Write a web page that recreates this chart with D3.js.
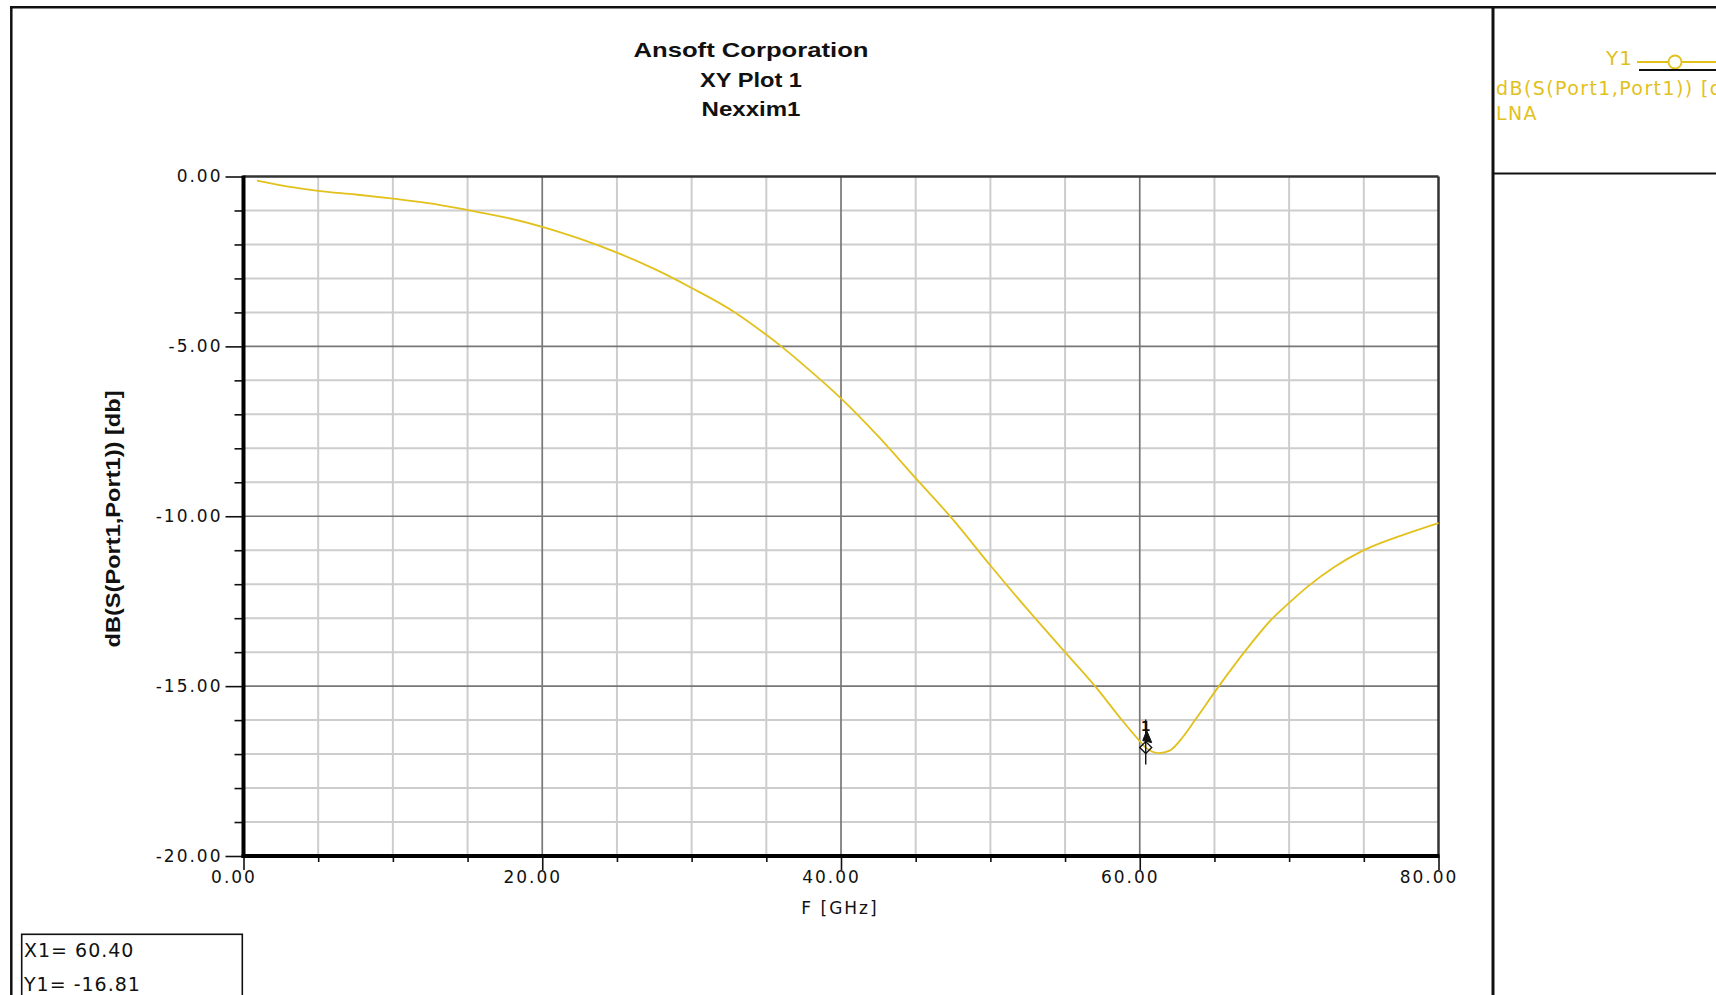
<!DOCTYPE html>
<html><head><meta charset="utf-8">
<script src="https://cdn.jsdelivr.net/npm/d3@7"></script>
<style>html,body{margin:0;padding:0;background:#fff;overflow:hidden}svg{display:block}</style>
</head><body><svg id="chart" width="1716" height="995"></svg>
<script>
// ---------- data ----------
const titleLines = ["Ansoft Corporation", "XY Plot 1", "Nexxim1"];
const xLabel = "F [GHz]";
const yLabel = "dB(S(Port1,Port1)) [db]";
const legendName = "Y1";
const legendExpr = "dB(S(Port1,Port1)) [dB]";
const legendSource = "LNA";
const xMajorTicks = [0, 20, 40, 60, 80];
const yMajorTicks = [0, -5, -10, -15, -20];
const freqGHz = [0.9, 3.35, 5, 7.5, 10, 12.5, 15, 17.5, 20, 22.5, 25, 27.5, 30, 32.9, 35, 36.0, 37.5, 40, 42.5, 45, 47.4, 50, 52.5, 55, 57.1, 58.9, 60, 60.4, 61.3, 62, 62.9, 63.7, 65.3, 67.0, 68.9, 70, 71.3, 73, 74.9, 77.3, 80];
const s11dB = [-0.12, -0.32, -0.42, -0.53, -0.65, -0.79, -0.99, -1.2, -1.48, -1.83, -2.24, -2.72, -3.28, -4.0, -4.66, -5.0, -5.55, -6.53, -7.65, -8.88, -10.05, -11.45, -12.75, -14.0, -15.05, -16.05, -16.62, -16.81, -16.97, -16.9, -16.49, -16.0, -15.0, -14.0, -13.0, -12.55, -12.05, -11.5, -11.02, -10.6, -10.2];
const markerX = [60.40];
const markerY = [-16.81];

// ---------- layout ----------
const svg = d3.select("#chart");
const curveColor = "#e2c11c";
const x = d3.scaleLinear().domain([0, 80]).range([243.5, 1438.5]);
const y = d3.scaleLinear().domain([-20, 0]).range([856, 176.5]);
const locale = d3.formatLocale({decimal: ".", thousands: ",", grouping: [3], currency: ["$", ""], minus: "-"});
const fmt = locale.format(".2f");

svg.append("rect").attr("width", 1716).attr("height", 995).attr("fill", "#ffffff");

// outer frame and legend panel
const frame = svg.append("g").attr("stroke", "#111").attr("fill", "none");
frame.append("line").attr("x1", 10).attr("x2", 1716).attr("y1", 7.3).attr("y2", 7.3).attr("stroke-width", 2.5);
frame.append("line").attr("x1", 11.3).attr("x2", 11.3).attr("y1", 6).attr("y2", 995).attr("stroke-width", 2.5);
frame.append("line").attr("x1", 1493).attr("x2", 1493).attr("y1", 6).attr("y2", 995).attr("stroke-width", 3);
frame.append("line").attr("x1", 1493).attr("x2", 1716).attr("y1", 173.5).attr("y2", 173.5).attr("stroke-width", 2.2);

// title
const titleY = [56.5, 87, 116];
const titleW = [235, 102, 99];
svg.append("g").selectAll("text").data(titleLines).join("text")
  .attr("x", 751).attr("y", (d, i) => titleY[i])
  .attr("text-anchor", "middle")
  .attr("font-family", "'Liberation Sans', Arial, sans-serif")
  .attr("font-weight", "bold").attr("font-size", 20.5).attr("fill", "#111")
  .attr("textLength", (d, i) => titleW[i]).attr("lengthAdjust", "spacingAndGlyphs")
  .text(d => d);

// grid
const grid = svg.append("g");
const minorXs = x.ticks(16).filter(v => !xMajorTicks.includes(v));
const minorYs = y.ticks(20).filter(v => !yMajorTicks.includes(v));
grid.selectAll("line.mx").data(minorXs).join("line").attr("class", "mx")
  .attr("x1", d => x(d)).attr("x2", d => x(d)).attr("y1", y(0)).attr("y2", y(-20))
  .attr("stroke", "#cdcdcd").attr("stroke-width", 2);
grid.selectAll("line.my").data(minorYs).join("line").attr("class", "my")
  .attr("x1", x(0)).attr("x2", x(80)).attr("y1", d => y(d)).attr("y2", d => y(d))
  .attr("stroke", "#cdcdcd").attr("stroke-width", 2);
grid.selectAll("line.MX").data(xMajorTicks.filter(v => v > 0 && v < 80)).join("line").attr("class", "MX")
  .attr("x1", d => x(d)).attr("x2", d => x(d)).attr("y1", y(0)).attr("y2", y(-20))
  .attr("stroke", "#777").attr("stroke-width", 1.7);
grid.selectAll("line.MY").data(yMajorTicks.filter(v => v < 0 && v > -20)).join("line").attr("class", "MY")
  .attr("x1", x(0)).attr("x2", x(80)).attr("y1", d => y(d)).attr("y2", d => y(d))
  .attr("stroke", "#777").attr("stroke-width", 1.7);
// top and right borders
grid.append("line").attr("x1", x(0)).attr("x2", x(80)).attr("y1", y(0)).attr("y2", y(0))
  .attr("stroke", "#333").attr("stroke-width", 2.5);
grid.append("line").attr("x1", x(80)).attr("x2", x(80)).attr("y1", y(0)).attr("y2", y(-20))
  .attr("stroke", "#333").attr("stroke-width", 2.5);

// curve
const pts = freqGHz.map((f, i) => [f, s11dB[i]]);
svg.append("path").datum(pts)
  .attr("fill", "none").attr("stroke", curveColor).attr("stroke-width", 1.8)
  .attr("d", d3.line().x(d => x(d[0])).y(d => y(d[1])).curve(d3.curveMonotoneX));

// axes
const tickFont = "'DejaVu Sans', sans-serif";
const yAxisMajor = d3.axisLeft(y).tickValues(yMajorTicks).tickSize(18).tickPadding(3).tickFormat(fmt);
const yAxisMinor = d3.axisLeft(y).tickValues(minorYs).tickSize(9).tickFormat("");
const xAxisMajor = d3.axisBottom(x).tickValues(xMajorTicks).tickSize(14).tickPadding(1).tickFormat(fmt);
const xAxisMinor = d3.axisBottom(x).tickValues(minorXs).tickSize(6).tickFormat("");

function styleAxis(g) {
  g.select(".domain").remove();
  g.selectAll(".tick line").attr("stroke", "#111").attr("stroke-width", 1.6);
  g.selectAll(".tick text").attr("fill", "#111").attr("font-family", tickFont)
    .attr("font-size", 17).attr("letter-spacing", 2);
}
svg.append("g").attr("transform", `translate(${x(0)},0)`).call(yAxisMinor).call(styleAxis);
svg.append("g").attr("transform", `translate(${x(0)},0)`).call(yAxisMajor).call(styleAxis);
svg.append("g").attr("transform", `translate(0,${y(-20)})`).call(xAxisMinor).call(styleAxis);
const gx = svg.append("g").attr("transform", `translate(0,${y(-20)})`).call(xAxisMajor).call(styleAxis);
gx.selectAll(".tick text").attr("dx", -10);

// thick axis lines
svg.append("line").attr("x1", x(0)).attr("x2", x(0)).attr("y1", y(0) - 1).attr("y2", y(-20) + 2)
  .attr("stroke", "#000").attr("stroke-width", 4);
svg.append("line").attr("x1", x(0) - 2).attr("x2", x(80) + 1).attr("y1", y(-20)).attr("y2", y(-20))
  .attr("stroke", "#000").attr("stroke-width", 4.2);

// axis titles
svg.append("text").attr("x", (x(0) + x(80)) / 2 - 1).attr("y", 914)
  .attr("text-anchor", "middle").attr("font-family", tickFont).attr("font-size", 17)
  .attr("letter-spacing", 2).attr("fill", "#111").text(xLabel);
svg.append("text").attr("transform", `translate(120,519) rotate(-90)`)
  .attr("text-anchor", "middle").attr("font-family", "'Liberation Sans', Arial, sans-serif")
  .attr("font-weight", "bold").attr("font-size", 20).attr("fill", "#111")
  .attr("textLength", 257).attr("lengthAdjust", "spacingAndGlyphs").text(yLabel);

// marker glyph
const mk = svg.append("g").attr("stroke", "#111").attr("fill", "none");
markerX.forEach((mxv, i) => {
  const mx = x(mxv), my = y(markerY[i]);
  mk.append("line").attr("x1", mx).attr("x2", mx).attr("y1", my - 28).attr("y2", my + 17).attr("stroke-width", 1.4);
  mk.append("path").attr("d", `M${mx - 6},${my} L${mx},${my - 6} L${mx + 6},${my} L${mx},${my + 6} Z`).attr("stroke-width", 1.4);
  mk.append("path").attr("d", `M${mx + 1},${my - 17} L${mx + 6},${my - 5} L${mx - 3},${my - 7} Z`).attr("fill", "#111").attr("stroke-width", 1);
  svg.append("text").attr("x", mx).attr("y", my - 17).attr("text-anchor", "middle")
    .attr("font-family", tickFont).attr("font-weight", "bold").attr("font-size", 14).attr("fill", "#111").text("1");
});

// marker readout box
svg.append("rect").attr("x", 21.7).attr("y", 934.3).attr("width", 220.6).attr("height", 80)
  .attr("fill", "none").attr("stroke", "#111").attr("stroke-width", 1.6);
const readout = [`X1= ${fmt(markerX[0])}`, `Y1= ${fmt(markerY[0])}`];
svg.append("g").selectAll("text").data(readout).join("text")
  .attr("x", 24).attr("y", (d, i) => [957.3, 990.7][i])
  .attr("font-family", tickFont).attr("font-size", 19).attr("letter-spacing", 1)
  .attr("fill", "#111").text(d => d);

// legend
const defs = svg.append("defs");
defs.append("clipPath").attr("id", "legclip").append("rect").attr("x", 1495).attr("y", 9).attr("width", 221).attr("height", 163);
const leg = svg.append("g").attr("clip-path", "url(#legclip)");
leg.append("text").attr("x", 1633).attr("y", 64.5).attr("text-anchor", "end")
  .attr("font-family", tickFont).attr("font-size", 20).attr("letter-spacing", 1)
  .attr("fill", curveColor).text(legendName);
leg.append("line").attr("x1", 1637).attr("x2", 1716).attr("y1", 62).attr("y2", 62)
  .attr("stroke", curveColor).attr("stroke-width", 1.8);
leg.append("circle").attr("cx", 1675).attr("cy", 62).attr("r", 6.5)
  .attr("fill", "#fff").attr("stroke", curveColor).attr("stroke-width", 1.8);
leg.append("line").attr("x1", 1639).attr("x2", 1716).attr("y1", 70).attr("y2", 70)
  .attr("stroke", "#111").attr("stroke-width", 2.2);
leg.append("text").attr("x", 1496).attr("y", 95)
  .attr("font-family", tickFont).attr("font-size", 19).attr("letter-spacing", 1.4)
  .attr("fill", curveColor).text(legendExpr);
leg.append("text").attr("x", 1496).attr("y", 120)
  .attr("font-family", tickFont).attr("font-size", 19).attr("letter-spacing", 1.4)
  .attr("fill", curveColor).text(legendSource);
</script>
</body></html>
